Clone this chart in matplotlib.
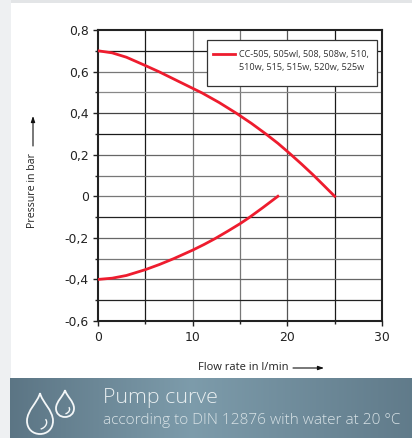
import matplotlib
matplotlib.use('Agg')
import matplotlib.pyplot as plt
import numpy as np
from matplotlib.lines import Line2D
from matplotlib.path import Path
from matplotlib.patches import PathPatch, Rectangle

W, H = 412, 438

flow_upper = [0, 1.5, 3, 5, 6.5, 8.5, 11, 12.8, 14.6, 16.2, 17.7, 19, 20.2, 21.5, 22.7, 23.9, 25]
pressure_upper = [0.70, 0.690, 0.669, 0.629, 0.598, 0.553, 0.497, 0.451, 0.400, 0.351, 0.301,
                  0.255, 0.208, 0.155, 0.104, 0.050, 0.0]
flow_lower = [0, 1.5, 3, 5, 6.5, 8, 10, 11.2, 12.35, 13.7, 15, 15.95, 17.4, 19]
pressure_lower = [-0.40, -0.394, -0.381, -0.353, -0.328, -0.30, -0.259, -0.232, -0.204, -0.168,
                  -0.132, -0.103, -0.055, 0.0]
x_ticks = [0, 10, 20, 30]
x_minor = [5, 15, 25]
y_ticks = [-0.6, -0.4, -0.2, 0, 0.2, 0.4, 0.6, 0.8]
y_tick_labels = ['-0,6', '-0,4', '-0,2', '0', '0,2', '0,4', '0,6', '0,8']
y_minor = [-0.5, -0.3, -0.1, 0.1, 0.3, 0.5, 0.7]
legend_line1 = 'CC-505, 505wl, 508, 508w, 510,'
legend_line2 = '510w, 515, 515w, 520w, 525w'

v_grid_colors = {5: '#1a1a1a', 10: '#777777', 15: '#777777', 20: '#555555', 25: '#1a1a1a'}
h_grid_colors = {0.7: '#1a1a1a', 0.6: '#777777', 0.5: '#888888', 0.4: '#444444', 0.3: '#1a1a1a',
                 0.2: '#666666', 0.1: '#777777', 0: '#777777', -0.1: '#222222', -0.2: '#666666',
                 -0.3: '#777777', -0.4: '#666666', -0.5: '#222222'}


def px_box(left, top, right, bottom):
    return [left / W, 1 - bottom / H, (right - left) / W, (bottom - top) / H]


def draw_drop(bg, cx, top, bottom, half):
    # water drop outline with small inner highlight
    h = bottom - top
    verts = [(cx, top), (cx - half * 0.15, top + h * 0.22), (cx - half, top + h * 0.42), (cx - half, top + h * 0.68),
             (cx - half, top + h * 0.88), (cx - half * 0.55, bottom), (cx, bottom),
             (cx + half * 0.55, bottom), (cx + half, top + h * 0.88), (cx + half, top + h * 0.68),
             (cx + half, top + h * 0.42), (cx + half * 0.15, top + h * 0.22), (cx, top)]
    codes = [Path.MOVETO] + [Path.CURVE4] * 12
    bg.add_patch(PathPatch(Path(verts, codes), fc='none', ec='#f4f7f8', lw=1.3, zorder=3))
    inner = [(cx + half * 0.05, bottom - h * 0.12), (cx + half * 0.5, bottom - h * 0.16),
             (cx + half * 0.62, bottom - h * 0.3), (cx + half * 0.42, bottom - h * 0.36)]
    bg.add_patch(PathPatch(Path(inner, [Path.MOVETO] + [Path.CURVE4] * 3), fc='none', ec='#f4f7f8', lw=1.0, zorder=3))


fig = plt.figure(figsize=(W / 100, H / 100), dpi=100, facecolor='white')

# page background and banner, in pixel coordinates
bg = fig.add_axes([0, 0, 1, 1], zorder=0)
bg.set_xlim(0, W)
bg.set_ylim(H, 0)
bg.axis('off')
bg.add_patch(Rectangle((0, 0), W, 3, fc='#e3e5e7', ec='none'))
bg.add_patch(Rectangle((0, 0), 11, H, fc='#eef0f2', ec='none'))
gradient = np.interp(np.linspace(0, 1, 256), [0, 0.45, 1], [0, 1, 0.15])
stops = np.array([[0.36, 0.46, 0.52], [0.49, 0.61, 0.67]])
img = stops[0] + gradient[None, :, None] * (stops[1] - stops[0])
bg.imshow(img, extent=(10, W, 438, 378), aspect='auto', zorder=1)
bg.set_xlim(0, W)
bg.set_ylim(H, 0)
draw_drop(bg, 40, 393, 434, 13)
draw_drop(bg, 65, 390, 417, 9)
bg.text(103, 398, 'Pump curve', color='#e8eef0', fontsize=15.4, family='Open Sans', fontweight='light',
        va='center', ha='left', zorder=3)
bg.text(103, 420, 'according to DIN 12876 with water at 20 °C', color='#d8e2e6', fontsize=11.1,
        family='Open Sans', fontweight='light', va='center', ha='left', zorder=3)

# axis captions with their arrows
bg.text(33, 190, 'Pressure in bar', rotation=90, fontsize=7.7, family='Open Sans', color='#222222',
        ha='center', va='center')
bg.annotate('', xy=(33, 116), xytext=(33, 146),
            arrowprops=dict(arrowstyle='-|>,head_width=0.12,head_length=0.35', color='#111111', lw=0.8, shrinkA=0, shrinkB=0))
bg.text(243.5, 367, 'Flow rate in l/min', fontsize=8.0, family='Open Sans', color='#222222', ha='center', va='center')
bg.annotate('', xy=(324, 368), xytext=(293, 368),
            arrowprops=dict(arrowstyle='-|>,head_width=0.12,head_length=0.35', color='#111111', lw=0.8, shrinkA=0, shrinkB=0))

ax = fig.add_axes(px_box(98, 30, 382, 321), zorder=2)
ax.patch.set_alpha(0)
ax.set_xlim(0, 30)
ax.set_ylim(-0.6, 0.8)

for x, c in v_grid_colors.items():
    ax.axvline(x, color=c, lw=0.9, zorder=1)
for y, c in h_grid_colors.items():
    ax.axhline(y, color=c, lw=0.9, zorder=1)

line, = ax.plot(flow_upper, pressure_upper, color='#ee1c2e', lw=2.0, zorder=3, solid_joinstyle='round')
ax.plot(flow_lower, pressure_lower, color='#ee1c2e', lw=2.0, zorder=3, solid_joinstyle='round')

ax.set_xticks(x_ticks)
ax.set_xticks(x_minor, minor=True)
ax.set_yticks(y_ticks)
ax.set_yticklabels(y_tick_labels)
ax.set_yticks(y_minor, minor=True)
ax.tick_params(axis='x', which='major', pad=3.4)
ax.tick_params(axis='y', which='major', pad=2.9)
ax.tick_params(which='major', length=3.6, width=1.0, color='#222222', labelsize=8.9, labelcolor='#222222')
ax.tick_params(which='minor', length=2, width=1.0, color='#222222')
for side in ax.spines.values():
    side.set_linewidth(1.5)
    side.set_color('#222222')

# legend box is drawn apart, its padding is wider at top and bottom than at the sides
ax.add_patch(Rectangle((207 / W, 1 - 86 / H), 170 / W, 46 / H, transform=fig.transFigure, fc='white',
                       ec='#333333', lw=0.9, zorder=4))
blank = Line2D([], [], color='none')
leg = ax.legend(handles=[line, blank], labels=[legend_line1, legend_line2], loc='upper left',
                bbox_to_anchor=((213 - 98) / 284, 1 - (50 - 30) / 291), borderaxespad=0, borderpad=0,
                frameon=False, prop={'family': 'Open Sans', 'size': 6.6}, handlelength=2.4, handletextpad=0.42,
                labelspacing=0.4, labelcolor='#333333')
leg.set_zorder(5)

fig.savefig('out.png', dpi=100)
